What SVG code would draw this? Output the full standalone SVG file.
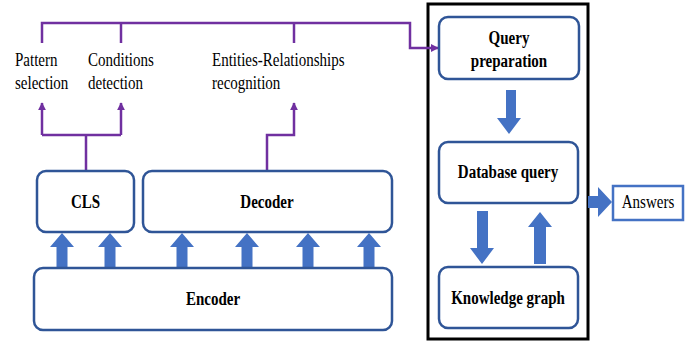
<svg xmlns="http://www.w3.org/2000/svg" width="699" height="341" viewBox="0 0 699 341">
<style>
.box{fill:#fff;stroke:#2F5597;stroke-width:2.5}
.lbl{font-family:'Liberation Serif','Times New Roman',Times,serif;font-size:19px;font-weight:bold;fill:#000;text-anchor:middle}
.txt{font-family:'Liberation Serif','Times New Roman',Times,serif;font-size:19px;fill:#000}
.pl{fill:none;stroke:#7030A0;stroke-width:2.5}
.ba{fill:#4472C4}
</style>
<defs>
<marker id="pa" viewBox="0 0 10 10" refX="9" refY="5" markerWidth="3.4" markerHeight="3.2" orient="auto" markerUnits="strokeWidth"><path d="M0,0 L10,5 L0,10 z" fill="#7030A0"/></marker>
</defs>
<rect x="0" y="0" width="699" height="341" fill="#fff"/>
<g id="panel"><rect x="428" y="4" width="160" height="335" fill="none" stroke="#000" stroke-width="3"/></g>
<g id="connectors">
<path class="pl" d="M42,43 V23 H410 V48 H438" marker-end="url(#pa)"/>
<path class="pl" d="M121,43 V23"/>
<path class="pl" d="M294,43 V23"/>
<path class="pl" d="M86,170 V135 M42,135 H121"/>
<path class="pl" d="M42,135 V103" marker-end="url(#pa)"/>
<path class="pl" d="M121,135 V103" marker-end="url(#pa)"/>
<path class="pl" d="M267,170 V135 H294 V103" marker-end="url(#pa)"/>
<g class="ba">
<path d="M56.5,268 V247 H50 L62,233 L74,247 H67.5 V268 Z"/>
<path d="M104.5,268 V247 H98 L110,233 L122,247 H115.5 V268 Z"/>
<path d="M176.5,268 V247 H170 L182,233 L194,247 H187.5 V268 Z"/>
<path d="M241.5,268 V247 H235 L247,233 L259,247 H252.5 V268 Z"/>
<path d="M302.5,268 V247 H296 L308,233 L320,247 H313.5 V268 Z"/>
<path d="M363.5,268 V247 H357 L369,233 L381,247 H374.5 V268 Z"/>
<path d="M506,90 H516 V118 H521 L509,134 L497,118 H506 Z"/>
<path d="M477,211 H488 V248 H494 L482,264 L470,248 H477 Z"/>
<path d="M534,264 H546 V227 H552 L540,212 L528,227 H534 Z"/>
<path d="M588,196 H598 V187 L612,202 L598,217 V208 H588 Z"/>
</g>
</g>
<g id="pattern"><text class="txt" transform="translate(15,66) scale(0.79,1)">Pattern</text><text class="txt" transform="translate(15,89) scale(0.79,1)">selection</text></g>
<g id="conditions"><text class="txt" transform="translate(88,66) scale(0.79,1)">Conditions</text><text class="txt" transform="translate(88,89) scale(0.79,1)">detection</text></g>
<g id="entities"><text class="txt" transform="translate(212,66) scale(0.79,1)">Entities-Relationships</text><text class="txt" transform="translate(212,89) scale(0.79,1)">recognition</text></g>
<g id="cls"><rect class="box" x="37" y="171" width="97" height="61" rx="9"/><text class="lbl" transform="translate(85.5,208) scale(0.79,1)">CLS</text></g>
<g id="decoder"><rect class="box" x="143" y="171" width="249" height="61" rx="9"/><text class="lbl" transform="translate(267,208) scale(0.79,1)">Decoder</text></g>
<g id="encoder"><rect class="box" x="34" y="268" width="358" height="62" rx="9"/><text class="lbl" transform="translate(213,305) scale(0.79,1)">Encoder</text></g>
<g id="query-prep"><rect class="box" x="439" y="17" width="140" height="62" rx="9"/><text class="lbl" transform="translate(509,44) scale(0.79,1)">Query</text><text class="lbl" transform="translate(509,67) scale(0.79,1)">preparation</text></g>
<g id="db-query"><rect class="box" x="439" y="142" width="139" height="61" rx="9"/><text class="lbl" transform="translate(508,178) scale(0.79,1)">Database query</text></g>
<g id="kg"><rect class="box" x="439" y="267" width="139" height="61" rx="9"/><text class="lbl" transform="translate(508,304) scale(0.79,1)">Knowledge graph</text></g>
<g id="answers"><rect x="613" y="186" width="70" height="34" fill="#fff" stroke="#4472C4" stroke-width="2.5"/><text class="txt" text-anchor="middle" transform="translate(648,208) scale(0.79,1)">Answers</text></g>
</svg>
